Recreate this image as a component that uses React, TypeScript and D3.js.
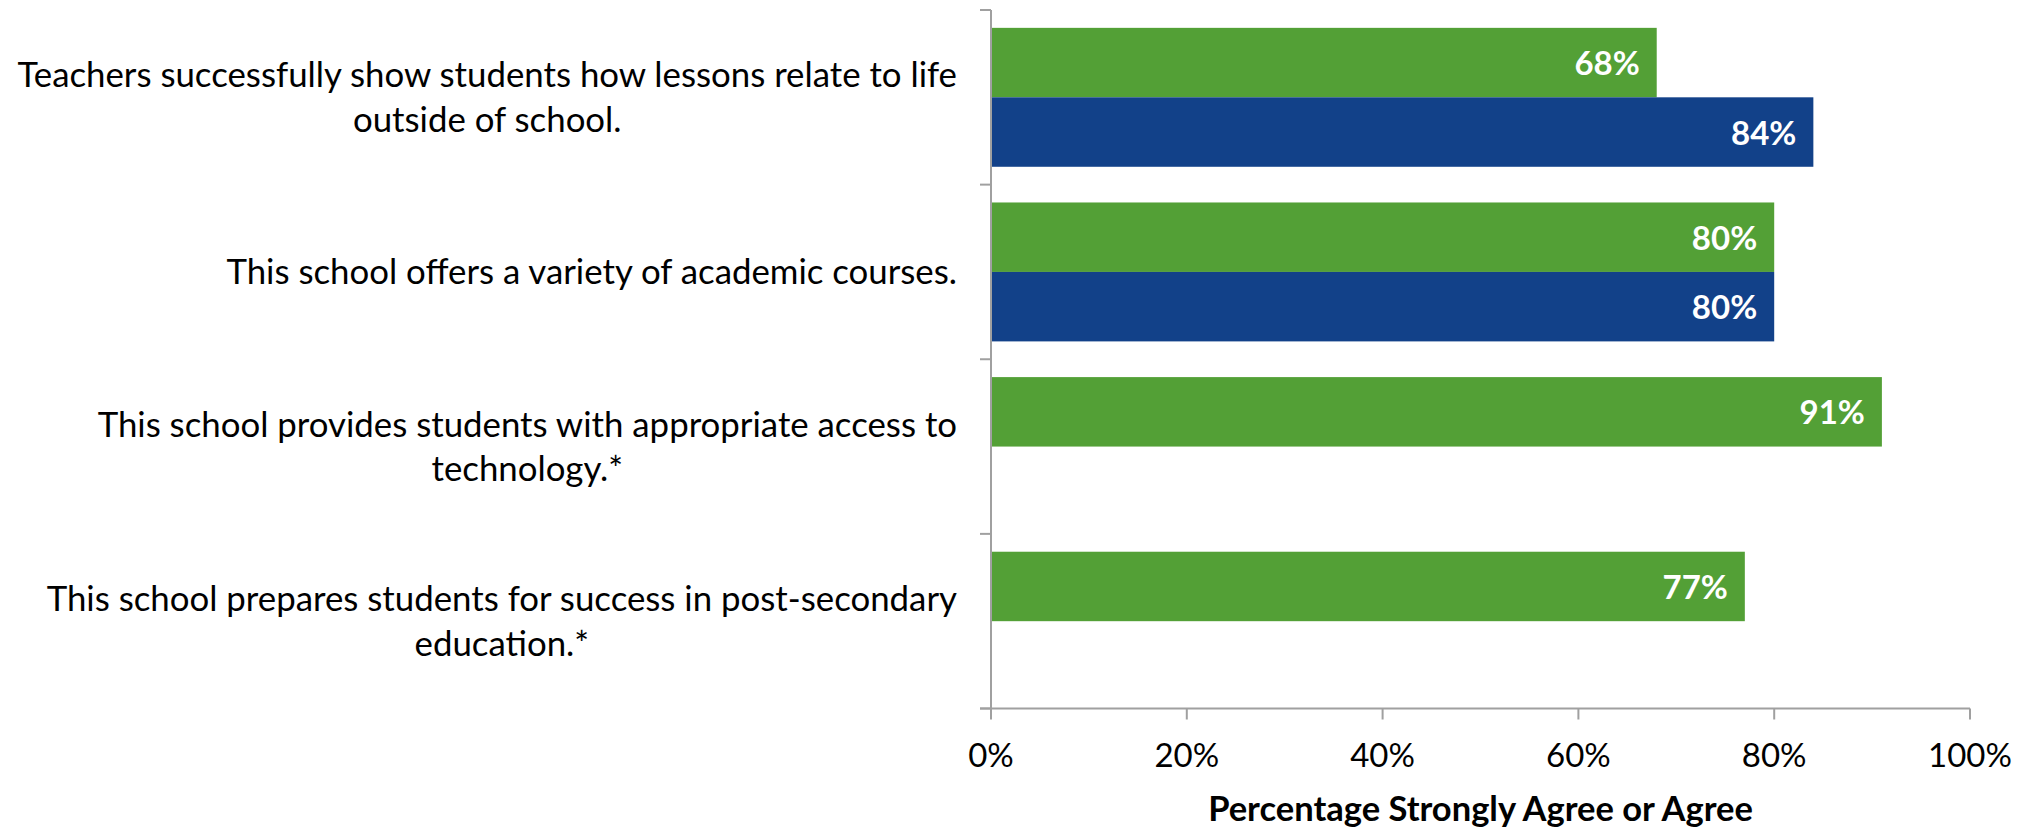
import React, { useEffect, useRef } from "react";
import * as d3 from "d3";

const categories: string[][] = [
  ["Teachers successfully show students how lessons relate to life", "outside of school."],
  ["This school offers a variety of academic courses."],
  ["This school provides students with appropriate access to", "technology.*"],
  ["This school prepares students for success in post-secondary", "education.*"],
];
const seriesKeys = ["green", "blue"];
const greenValues: (number | null)[] = [68, 80, 91, 77];
const blueValues: (number | null)[] = [84, 80, null, null];
const xTicks = [0, 20, 40, 60, 80, 100];
const xTitle = "Percentage Strongly Agree or Agree";

const W = 2030;
const H = 828;
const FONT = "Lato, 'Open Sans', sans-serif";
const COLORS: Record<string, string> = { green: "#53A036", blue: "#124189" };

export default function App() {
  const ref = useRef<SVGSVGElement | null>(null);

  useEffect(() => {
    const svg = d3.select(ref.current);
    svg.selectAll("*").remove();

    const left = 991;
    const right = 1970;
    const top = 10;
    const bottom = 708.5;

    const x = d3.scaleLinear().domain([0, 100]).range([left, right]);
    const idx = categories.map((_, i) => String(i));
    const y0 = d3.scaleBand().domain(idx).range([top, bottom]).padding(0);
    const y1 = d3
      .scaleBand()
      .domain(seriesKeys)
      .range([0, y0.bandwidth()])
      .paddingInner(0)
      .paddingOuter(0.257);

    const data = categories.map((_, i) => ({
      i: String(i),
      green: greenValues[i],
      blue: blueValues[i],
    }));

    // bars
    const g = svg.append("g");
    data.forEach((d) => {
      seriesKeys.forEach((k) => {
        const v = (d as any)[k] as number | null;
        if (v == null) return;
        const yy = (y0(d.i) as number) + (y1(k) as number);
        const h = y1.bandwidth();
        g.append("rect")
          .attr("x", x(0))
          .attr("y", yy)
          .attr("width", x(v) - x(0))
          .attr("height", h)
          .attr("fill", COLORS[k]);
        g.append("text")
          .attr("x", x(v) - 17)
          .attr("y", yy + h / 2 + 12.5)
          .attr("text-anchor", "end")
          .attr("font-family", FONT)
          .attr("font-weight", "bold")
          .attr("font-size", 33)
          .attr("fill", "#ffffff")
          .text(`${v}%`);
      });
    });

    const axisColor = "#A0A0A0";
    // y axis
    svg
      .append("line")
      .attr("x1", left)
      .attr("x2", left)
      .attr("y1", top)
      .attr("y2", bottom)
      .attr("stroke", axisColor)
      .attr("stroke-width", 2);
    const yTickPos = [top, ...idx.map((i) => (y0(i) as number) + y0.bandwidth())];
    yTickPos.forEach((p) => {
      svg
        .append("line")
        .attr("x1", left - 11)
        .attr("x2", left)
        .attr("y1", p)
        .attr("y2", p)
        .attr("stroke", axisColor)
        .attr("stroke-width", 2);
    });

    // x axis
    svg
      .append("line")
      .attr("x1", left - 11)
      .attr("x2", right)
      .attr("y1", bottom)
      .attr("y2", bottom)
      .attr("stroke", axisColor)
      .attr("stroke-width", 2);
    xTicks.forEach((t) => {
      svg
        .append("line")
        .attr("x1", x(t))
        .attr("x2", x(t))
        .attr("y1", bottom)
        .attr("y2", bottom + 11)
        .attr("stroke", axisColor)
        .attr("stroke-width", 2);
      svg
        .append("text")
        .attr("x", x(t))
        .attr("y", 766.5)
        .attr("text-anchor", "middle")
        .attr("font-family", FONT)
        .attr("font-size", 33)
        .attr("fill", "#000")
        .text(`${t}%`);
    });

    svg
      .append("text")
      .attr("x", (left + right) / 2)
      .attr("y", 821)
      .attr("text-anchor", "middle")
      .attr("font-family", FONT)
      .attr("font-weight", "bold")
      .attr("font-size", 34.5)
      .attr("fill", "#000")
      .text(xTitle);

    // category labels: block right-aligned, lines centered within block
    const labelRight = 957;
    const lineH = 44.7;
    categories.forEach((lines, i) => {
      const cy = (y0(String(i)) as number) + y0.bandwidth() / 2;
      const texts = lines.map((ln, j) =>
        svg
          .append("text")
          .attr("text-anchor", "middle")
          .attr("font-family", FONT)
          .attr("font-size", 34.8)
          .attr("fill", "#000")
          .attr("y", cy + (j - (lines.length - 1) / 2) * lineH + 12.5)
          .text(ln)
      );
      const widths = texts.map((t) => (t.node() as SVGTextElement).getComputedTextLength());
      const bw = Math.max(...widths);
      texts.forEach((t) => t.attr("x", labelRight - bw / 2));
    });
  }, []);

  return (
    <svg
      ref={ref}
      width={W}
      height={H}
      style={{ position: "absolute", left: 0, top: 0, background: "#fff" }}
    />
  );
}
